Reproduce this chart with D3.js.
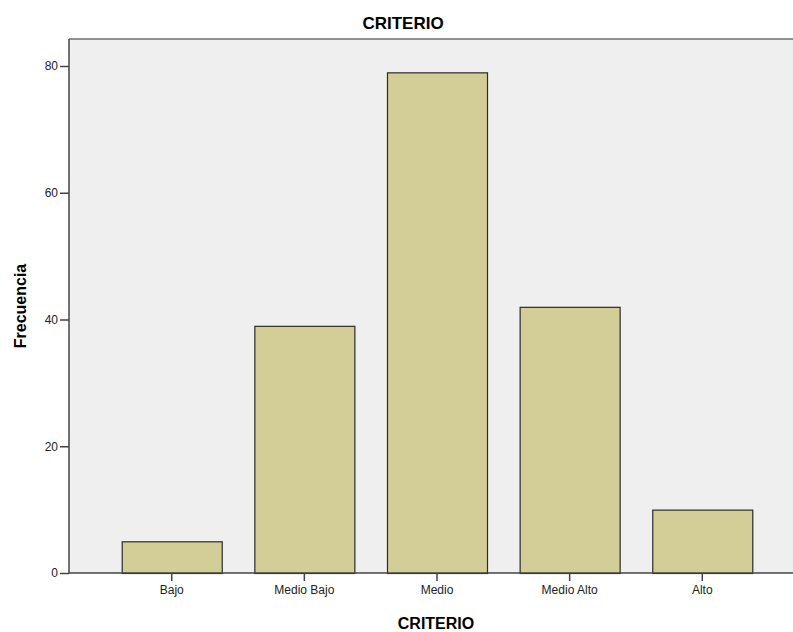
<!DOCTYPE html>
<html><head><meta charset="utf-8">
<script src="https://cdn.jsdelivr.net/npm/d3@7"></script>
<style>body{margin:0;background:#fff}svg{display:block}text{font-family:"Liberation Sans",Arial,sans-serif}</style>
</head><body>
<script>
const categories = ["Bajo","Medio Bajo","Medio","Medio Alto","Alto"];
const values = [5,39,79,42,10];
const yTicks = [0,20,40,60,80];
const title = "CRITERIO";
const xTitle = "CRITERIO";
const yTitle = "Frecuencia";

const W = 793, H = 632;
const svg = d3.select("body").append("svg").attr("width",W).attr("height",H);
const plotL = 69, plotT = 39, plotB = 573, plotR = 810;

const x = d3.scaleBand().domain(categories).range([105.4, 768.6]).paddingInner(0.246).paddingOuter(0.123);
const y = d3.scaleLinear().domain([0,80]).range([573,66]);

svg.append("rect").attr("x",plotL).attr("y",plotT).attr("width",plotR-plotL).attr("height",plotB-plotT).attr("fill","#efefef");
svg.append("line").attr("x1",plotL).attr("x2",plotR).attr("y1",plotT).attr("y2",plotT).attr("stroke","#6e6e6e").attr("stroke-width",1.5);

svg.selectAll("rect.bar").data(values).enter().append("rect").attr("class","bar")
  .attr("x",(d,i)=>x(categories[i])+0.5)
  .attr("y",d=>y(d)+0.5)
  .attr("width",x.bandwidth())
  .attr("height",d=>y(0)-y(d))
  .attr("fill","#d3ce97").attr("stroke","#2b2b2b").attr("stroke-width",1.2);

const yAxis = svg.append("g").attr("transform",`translate(${plotL},0)`)
  .call(d3.axisLeft(y).tickValues(yTicks).tickSize(9).tickSizeOuter(0).tickPadding(2));
yAxis.select(".domain").attr("d",`M0,${plotT}V${plotB}`);
const xAxis = svg.append("g").attr("transform",`translate(0,${plotB})`)
  .call(d3.axisBottom(x).tickSize(8).tickSizeOuter(0).tickPadding(4));
xAxis.select(".domain").attr("d",`M${plotL},0H${plotR}`);
svg.selectAll(".domain").attr("stroke","#444").attr("stroke-width",1.5);
svg.selectAll(".tick line").attr("stroke","#444").attr("stroke-width",1.5);
svg.selectAll(".tick text").attr("font-size",12).attr("fill","#222").attr("font-family","'Liberation Sans',Arial,sans-serif");

svg.append("text").attr("x",403).attr("y",29).attr("text-anchor","middle").attr("font-size",17).attr("font-weight","bold").text(title);
svg.append("text").attr("x",436).attr("y",629).attr("text-anchor","middle").attr("font-size",16).attr("font-weight","bold").text(xTitle);
svg.append("text").attr("transform","translate(26,306) rotate(-90)").attr("text-anchor","middle").attr("font-size",16).attr("font-weight","bold").text(yTitle);
</script>
</body></html>
